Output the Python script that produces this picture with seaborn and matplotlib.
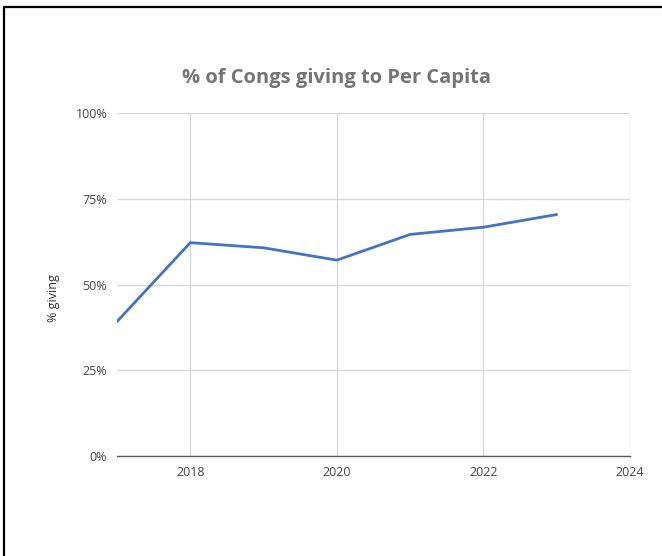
import matplotlib
matplotlib.use("Agg")
import matplotlib.pyplot as plt
import seaborn as sns
import pandas as pd
from matplotlib.lines import Line2D
from matplotlib.ticker import FuncFormatter

years = [2017, 2018, 2019, 2020, 2021, 2022, 2023]
pct_giving = [39.2, 62.2, 60.7, 57.1, 64.6, 66.7, 70.4]
x_ticks = [2018, 2020, 2022, 2024]
y_ticks = [0, 25, 50, 75, 100]
title = "% of Congs giving to Per Capita"
y_label = "% giving"

df = pd.DataFrame({"year": years, "pct": pct_giving})

sns.set_theme(style="white")
plt.rcParams['font.family'] = ['Open Sans', 'DejaVu Sans']

W, H = 662, 556
fig = plt.figure(figsize=(W / 100, H / 100), dpi=100)
ax = fig.add_axes([117 / W, 1 - 456 / H, (630 - 117) / W, (456 - 113) / H])

sns.lineplot(data=df, x="year", y="pct", ax=ax, color="#4472C4", linewidth=2.0)

ax.set_xlim(2017, 2024)
ax.set_ylim(0, 100)
ax.set_xticks(x_ticks)
ax.set_yticks(y_ticks)
ax.yaxis.set_major_formatter(FuncFormatter(lambda v, p: f"{int(v)}%"))
ax.grid(True, color="#d9d9d9", linewidth=1.0)
ax.set_axisbelow(True)
for s in ["left", "right", "top"]:
    ax.spines[s].set_visible(False)
ax.spines["bottom"].set_color("#595959")
ax.spines["bottom"].set_linewidth(1.0)
ax.tick_params(axis="both", length=0, labelsize=9, colors="#444444")
ax.tick_params(axis="x", pad=7)
ax.tick_params(axis="y", pad=7)
ax.set_xlabel("")
ax.set_ylabel(y_label, fontsize=9, color="#333333", labelpad=11)
ax.yaxis.label.set_y(0.46)

fig.text(336 / W, 1 - 78 / H, title, ha="center", va="center",
         fontsize=14.5, fontweight="bold", color="#757575")

# outer border (top and left)
fig.add_artist(Line2D([4 / W, 1], [1 - 6.5 / H, 1 - 6.5 / H], transform=fig.transFigure,
                      color="black", linewidth=1.6))
fig.add_artist(Line2D([4 / W, 4 / W], [0, 1 - 6.5 / H], transform=fig.transFigure,
                      color="black", linewidth=1.6))

fig.savefig("out.png", dpi=100, facecolor="white")
